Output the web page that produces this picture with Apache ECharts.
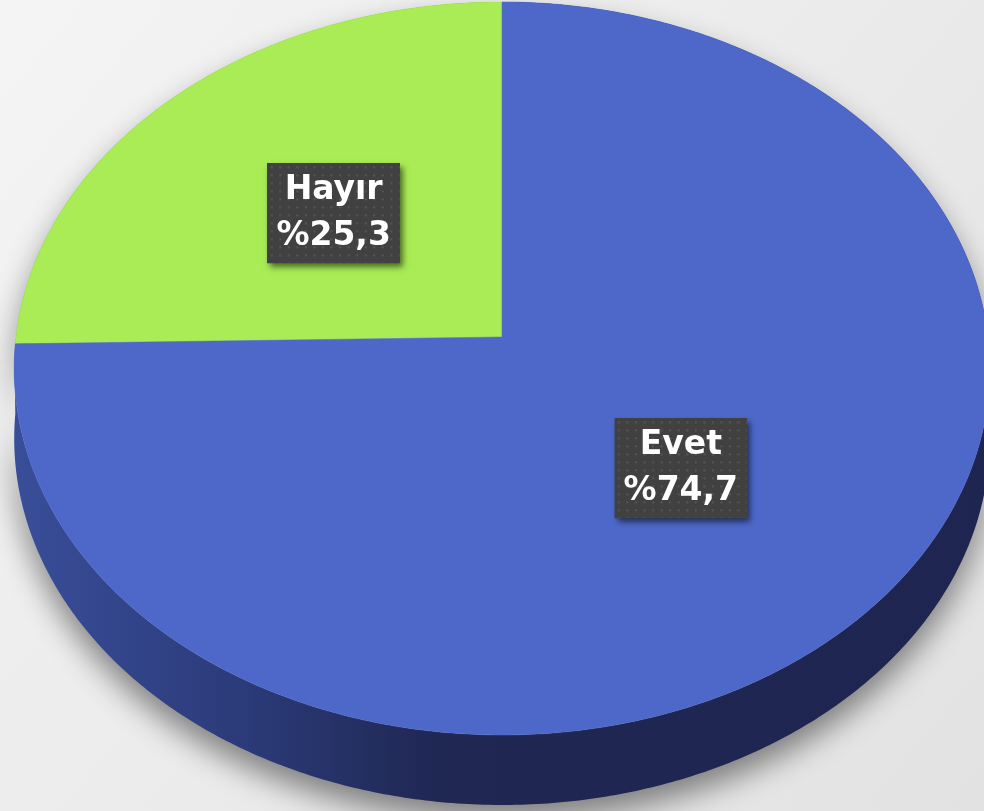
<!DOCTYPE html>
<html>
<head>
<meta charset="utf-8">
<title>Hayır / Evet</title>
<script src="https://cdn.jsdelivr.net/npm/echarts@6/dist/echarts.min.js"></script>
<style>
  html, body { margin: 0; padding: 0; }
  #chart { width: 984px; height: 811px; }
</style>
</head>
<body>
<div id="chart"></div>
<script>
  // veriler
  const categories = ['Hayır', 'Evet'];
  const values = [25.3, 74.7];
  const topColors = ['#a9ec55', '#4d68c9'];
  const sideColors = ['#6e9c36', null];

  // 3B pasta geometrisi (perspektif)
  const cx = 502, cy = 337;     // merkez
  const A = 486, B = 363.8;     // yarıçaplar
  const k = 0.0859;             // perspektif katsayısı
  const depth = 70;

  const total = values.reduce((s, v) => s + v, 0);
  const starts = [];
  let acc = 0;
  values.forEach(v => { starts.push(acc); acc += v; });

  function proj(t, r) {
    const u = r * Math.cos(t), v = r * Math.sin(t);
    const d = 1 + k * v;
    return [cx + A * u / d, cy - B * v / d];
  }

  function rim(t0, t1, dy) {
    const pts = [];
    const n = Math.max(8, Math.ceil(Math.abs(t1 - t0) / 0.01));
    for (let i = 0; i <= n; i++) {
      const p = proj(t0 + (t1 - t0) * i / n, 1);
      pts.push([p[0], p[1] + dy]);
    }
    return pts;
  }

  // noktalı etiket zemini
  const dotCanvas = document.createElement('canvas');
  dotCanvas.width = 124;
  dotCanvas.height = 100;
  (function () {
    const c = dotCanvas.getContext('2d');
    c.fillStyle = '#414141';
    c.fillRect(0, 0, 124, 100);
    c.fillStyle = '#555555';
    for (let y = 3; y < 100; y += 8) {
      for (let x = 3; x < 124; x += 8) {
        c.fillRect(x, y, 2, 2);
      }
    }
  })();

  const sideGradient = new echarts.graphic.LinearGradient(0, 0, 984, 0, [
    { offset: 0, color: '#3a4f9c' },
    { offset: 0.25, color: '#2b3a78' },
    { offset: 0.45, color: '#1f2752' },
    { offset: 1, color: '#1e2550' }
  ], true);

  const labelFont = 'bold 33px "DejaVu Sans"';

  function renderItem(params, api) {
    const i = params.dataIndex;
    const val = api.value(0);
    const t0 = Math.PI / 2 + starts[i] / total * Math.PI * 2;
    const t1 = t0 + val / total * Math.PI * 2;

    const top = rim(t0, t1, 0);
    const bottom = rim(t0, t1, depth).reverse();

    const mid = (t0 + t1) / 2;
    const lp = proj(mid, 0.5);
    const txt = categories[i] + '\n%' + String(val).replace('.', ',');

    return {
      type: 'group',
      children: [
        {
          type: 'polygon',
          z2: 1,
          shape: { points: top.concat(bottom) },
          style: {
            fill: sideColors[i] || sideGradient,
            shadowBlur: 30,
            shadowColor: 'rgba(0,0,0,0.45)',
            shadowOffsetY: 16
          }
        },
        {
          type: 'polygon',
          z2: 10,
          shape: { points: [[cx, cy]].concat(top) },
          style: { fill: topColors[i], stroke: topColors[i], lineWidth: 0.5 }
        },
        {
          // gölge
          type: 'text',
          z2: 20,
          x: lp[0],
          y: lp[1],
          style: {
            text: txt,
            fill: '#ffffff',
            font: labelFont,
            lineHeight: 46,
            align: 'center',
            verticalAlign: 'middle',
            backgroundColor: '#414141',
            padding: [4, 9, 4, 9],
            shadowBlur: 6,
            shadowColor: 'rgba(0,0,0,0.55)',
            shadowOffsetX: 3,
            shadowOffsetY: 4
          }
        },
        {
          type: 'text',
          z2: 21,
          x: lp[0],
          y: lp[1],
          style: {
            text: txt,
            fill: '#ffffff',
            font: labelFont,
            lineHeight: 46,
            align: 'center',
            verticalAlign: 'middle',
            backgroundColor: { image: dotCanvas },
            padding: [4, 9, 4, 9]
          }
        }
      ]
    };
  }

  const chart = echarts.init(document.getElementById('chart'), null, { renderer: 'canvas' });
  chart.setOption({
    backgroundColor: {
      type: 'linear', x: 0, y: 0, x2: 1, y2: 1,
      colorStops: [
        { offset: 0, color: '#f4f4f4' },
        { offset: 1, color: '#e2e2e2' }
      ]
    },
    animation: false,
    series: [{
      type: 'custom',
      coordinateSystem: 'none',
      renderItem: renderItem,
      data: values.map((v, i) => ({ name: categories[i], value: [v] }))
    }]
  });
</script>
</body>
</html>
